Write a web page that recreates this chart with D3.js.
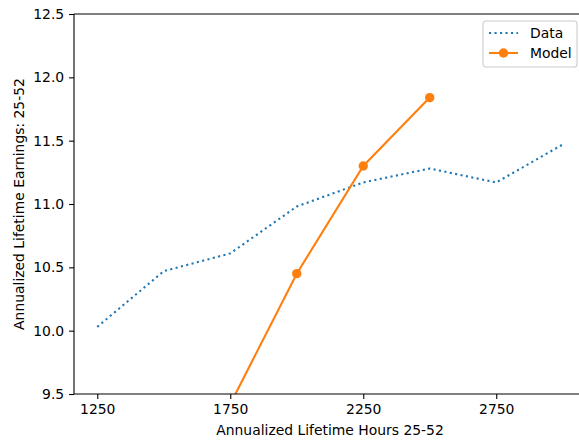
<!DOCTYPE html>
<html>
<head>
<meta charset="utf-8">
<script src="https://cdn.jsdelivr.net/npm/d3@7"></script>
<style>
  body { margin: 0; background: #fff; }
  text { font-family: "DejaVu Sans", sans-serif; fill: #000; }
</style>
</head>
<body>
<script>
// values
let hours = [1250, 1500, 1750, 2000, 2250, 2500, 2750, 3000];
let dataEarn = [10.03, 10.47, 10.61, 10.98, 11.17, 11.28, 11.17, 11.47];
let modelHours = [1250, 1500, 1750, 2000, 2250, 2500];
let modelEarn = [8.2, 8.8, 9.42, 10.45, 11.30, 11.84];
let xTicks = [1250, 1750, 2250, 2750];
let yTicks = [9.5, 10.0, 10.5, 11.0, 11.5, 12.0, 12.5];

let W = 579, H = 440;
let margin = {left: 74, top: 14};
let w = 512, h = 380;

let svg = d3.select('body')
  .append('svg')
  .attr('width', W)
  .attr('height', H);

let g = svg.append('g')
  .attr('transform', `translate(${margin.left},${margin.top})`);

let x = d3.scaleLinear()
  .domain([1162.5, 3087.5])
  .range([0, w]);

let y = d3.scaleLinear()
  .domain([9.5, 12.5])
  .range([h, 0]);

// clip so the model line stops at the axes
svg.append('defs').append('clipPath')
  .attr('id', 'plotclip')
  .append('rect')
  .attr('width', w)
  .attr('height', h);

let plot = g.append('g').attr('clip-path', 'url(#plotclip)');

let line = d3.line()
  .x(function(d) { return x(d[0]); })
  .y(function(d) { return y(d[1]); });

// data series, dotted
plot.append('path')
  .datum(d3.zip(hours, dataEarn))
  .attr('d', line)
  .attr('fill', 'none')
  .attr('stroke', '#1f77b4')
  .attr('stroke-width', 2.1)
  .attr('stroke-dasharray', '2.1,3.4');

// model series
let model = d3.zip(modelHours, modelEarn);
plot.append('path')
  .datum(model)
  .attr('d', line)
  .attr('fill', 'none')
  .attr('stroke', '#ff7f0e')
  .attr('stroke-width', 2.1);

plot.selectAll('.dot')
  .data(model)
  .enter()
  .append('circle')
  .attr('class', 'dot')
  .attr('cx', function(d) { return x(d[0]); })
  .attr('cy', function(d) { return y(d[1]); })
  .attr('r', 4.7)
  .attr('fill', '#ff7f0e');

// axes
let xAxis = g.append('g')
  .attr('transform', `translate(0,${h})`)
  .call(d3.axisBottom(x).tickValues(xTicks).tickSize(4.9).tickPadding(4.9)
    .tickFormat(d3.format('d')));

let yAxis = g.append('g')
  .call(d3.axisLeft(y).tickValues(yTicks).tickSize(4.9).tickPadding(4.9)
    .tickFormat(d3.format('.1f')));

[xAxis, yAxis].forEach(function(a) {
  a.select('.domain').remove();
  a.selectAll('line').attr('stroke', '#000').attr('stroke-width', 1.1);
  a.selectAll('text').style('font-size', '13.9px').attr('fill', '#000');
});

// spines (left, bottom, top; right falls outside the picture)
g.append('line').attr('x1', 0).attr('x2', 0).attr('y1', 0).attr('y2', h)
  .attr('stroke', '#000').attr('stroke-width', 1.1);
g.append('line').attr('x1', 0).attr('x2', w).attr('y1', h).attr('y2', h)
  .attr('stroke', '#000').attr('stroke-width', 1.1);
g.append('line').attr('x1', 0).attr('x2', w).attr('y1', 0).attr('y2', 0)
  .attr('stroke', '#000').attr('stroke-width', 1.1);
g.append('line').attr('x1', w).attr('x2', w).attr('y1', 0).attr('y2', h)
  .attr('stroke', '#000').attr('stroke-width', 1.1);

// labels
svg.append('text')
  .attr('x', margin.left + w / 2)
  .attr('y', 435)
  .style('text-anchor', 'middle')
  .style('font-size', '13.9px')
  .text('Annualized Lifetime Hours 25-52');

svg.append('text')
  .attr('transform', `translate(24,${margin.top + h / 2})rotate(-90)`)
  .style('text-anchor', 'middle')
  .style('font-size', '13.9px')
  .text('Annualized Lifetime Earnings: 25-52');

// legend
let legend = svg.append('g')
  .attr('transform', 'translate(483,21)');

legend.append('rect')
  .attr('width', 94)
  .attr('height', 46)
  .attr('rx', 2.8)
  .attr('fill', '#fff')
  .attr('fill-opacity', 0.8)
  .attr('stroke', '#cccccc')
  .attr('stroke-width', 1.1);

legend.append('line')
  .attr('x1', 6).attr('x2', 35).attr('y1', 12).attr('y2', 12)
  .attr('stroke', '#1f77b4')
  .attr('stroke-width', 2.1)
  .attr('stroke-dasharray', '2.1,3.4');

legend.append('line')
  .attr('x1', 6).attr('x2', 35).attr('y1', 32).attr('y2', 32)
  .attr('stroke', '#ff7f0e')
  .attr('stroke-width', 2.1);

legend.append('circle')
  .attr('cx', 20.5).attr('cy', 32).attr('r', 4.7)
  .attr('fill', '#ff7f0e');

legend.append('text')
  .attr('x', 47).attr('y', 17)
  .style('font-size', '13.9px')
  .text('Data');

legend.append('text')
  .attr('x', 47).attr('y', 37)
  .style('font-size', '13.9px')
  .text('Model');
</script>
</body>
</html>
